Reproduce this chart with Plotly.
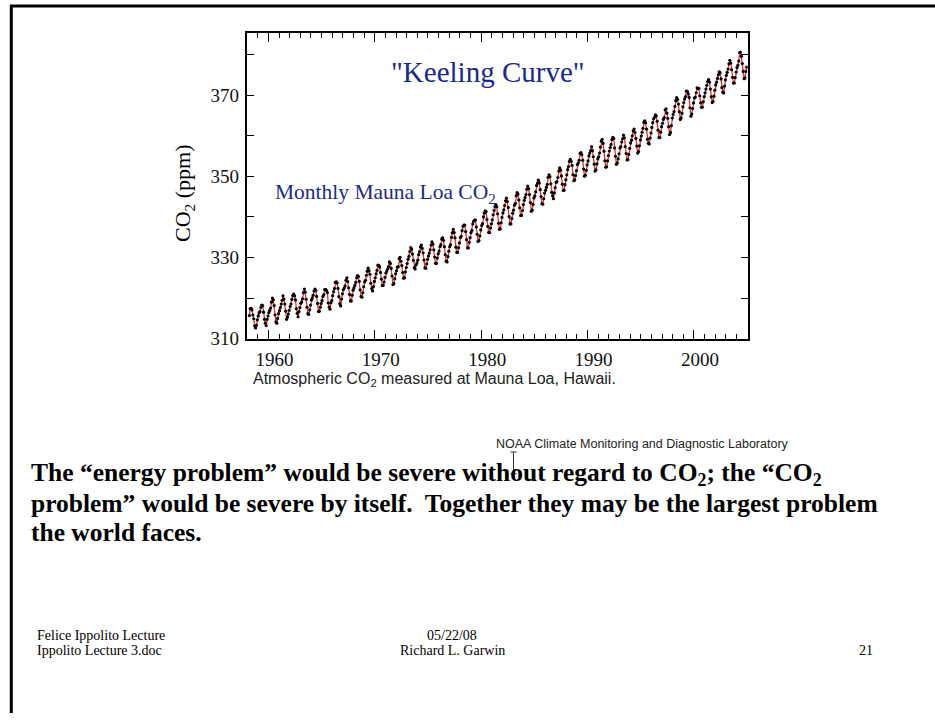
import plotly.graph_objects as go

# ---------------- data (monthly Mauna Loa CO2, ppm) ----------------
years = list(range(1958, 2005))
monthly_co2 = [
    [None, None, 315.71, 317.45, 317.50, 317.10, 315.86, 314.93, 313.20, 312.66, 313.33, 314.67],  # 1958
    [315.62, 316.38, 316.71, 317.72, 318.29, 318.15, 316.54, 314.80, 313.84, 313.26, 314.80, 315.58],  # 1959
    [316.43, 316.97, 317.58, 319.02, 320.03, 319.59, 318.18, 315.91, 314.16, 313.83, 315.00, 316.19],  # 1960
    [316.93, 317.70, 318.54, 319.48, 320.58, 319.77, 318.57, 316.79, 314.80, 315.38, 316.10, 317.01],  # 1961
    [317.94, 318.56, 319.68, 320.63, 321.01, 320.55, 319.58, 317.40, 316.26, 315.42, 316.69, 317.69],  # 1962
    [318.74, 319.08, 319.86, 321.39, 322.25, 321.47, 319.74, 317.77, 316.21, 315.99, 317.12, 318.31],  # 1963
    [319.57, 320.07, 320.73, 321.77, 322.25, 321.89, 320.44, 318.70, 316.70, 316.79, 317.79, 318.71],  # 1964
    [319.44, 320.44, 320.89, 322.13, 322.16, 321.87, 321.39, 318.81, 317.81, 317.30, 318.87, 319.42],  # 1965
    [320.62, 321.59, 322.39, 323.87, 324.01, 323.75, 322.39, 320.37, 318.64, 318.10, 319.79, 321.08],  # 1966
    [322.07, 322.50, 323.04, 324.42, 325.00, 324.09, 322.55, 320.92, 319.31, 319.31, 320.72, 321.96],  # 1967
    [322.57, 323.15, 323.89, 325.02, 325.57, 325.36, 324.14, 322.03, 320.41, 320.25, 321.31, 322.84],  # 1968
    [324.00, 324.42, 325.64, 326.66, 327.38, 326.70, 325.89, 323.67, 322.38, 321.78, 322.85, 324.12],  # 1969
    [325.03, 325.99, 326.87, 328.13, 328.07, 327.66, 326.35, 324.69, 323.10, 323.16, 323.98, 325.13],  # 1970
    [326.17, 326.68, 327.18, 327.78, 328.92, 328.57, 327.34, 325.46, 323.36, 323.57, 324.80, 326.01],  # 1971
    [326.77, 327.63, 327.75, 329.72, 330.07, 329.09, 328.05, 326.32, 324.93, 325.06, 326.50, 327.55],  # 1972
    [328.54, 329.56, 330.30, 331.50, 332.48, 332.07, 330.87, 329.31, 327.51, 327.18, 328.16, 328.64],  # 1973
    [329.35, 330.71, 331.48, 332.65, 333.09, 332.25, 331.18, 329.40, 327.44, 327.37, 328.46, 329.58],  # 1974
    [330.40, 331.10, 331.93, 333.09, 333.86, 333.29, 331.90, 330.14, 328.60, 328.57, 329.89, 330.92],  # 1975
    [331.62, 332.68, 333.17, 334.59, 334.85, 334.25, 332.68, 330.72, 329.11, 328.93, 330.24, 331.58],  # 1976
    [332.68, 333.17, 334.96, 336.14, 336.93, 336.17, 334.88, 332.56, 331.29, 331.27, 332.41, 333.60],  # 1977
    [334.95, 335.25, 336.66, 337.69, 338.03, 338.01, 336.41, 334.41, 332.37, 332.41, 333.75, 334.90],  # 1978
    [336.14, 336.69, 338.27, 338.95, 339.21, 339.26, 337.54, 335.75, 333.98, 334.19, 335.31, 336.81],  # 1979
    [337.90, 338.34, 340.01, 340.93, 341.48, 341.33, 339.40, 337.70, 336.19, 336.15, 337.27, 338.32],  # 1980
    [339.29, 340.55, 341.61, 342.53, 343.03, 342.54, 340.78, 338.44, 336.95, 337.08, 338.58, 339.88],  # 1981
    [340.96, 341.73, 342.81, 343.97, 344.63, 343.79, 342.32, 340.09, 338.28, 338.29, 339.60, 340.90],  # 1982
    [341.68, 342.90, 343.33, 345.25, 346.03, 345.63, 344.19, 342.27, 340.35, 340.38, 341.59, 343.05],  # 1983
    [344.10, 344.79, 345.52, 346.84, 347.63, 346.97, 345.53, 343.55, 341.40, 341.67, 343.10, 344.70],  # 1984
    [345.21, 346.16, 347.74, 348.34, 349.06, 348.38, 346.72, 345.02, 343.27, 343.13, 344.49, 345.88],  # 1985
    [346.56, 347.28, 348.01, 349.77, 350.38, 349.93, 348.16, 346.08, 345.22, 344.51, 345.93, 347.21],  # 1986
    [348.52, 348.73, 349.73, 351.31, 352.09, 351.53, 350.11, 348.08, 346.52, 346.59, 347.96, 349.16],  # 1987
    [350.39, 351.64, 352.41, 353.69, 354.21, 353.72, 352.69, 350.40, 348.92, 349.13, 350.20, 351.41],  # 1988
    [352.91, 353.27, 353.96, 355.64, 355.86, 355.37, 353.99, 351.81, 350.05, 350.25, 351.49, 352.85],  # 1989
    [353.80, 355.04, 355.73, 356.32, 357.32, 356.34, 354.84, 353.01, 351.31, 351.62, 353.07, 354.33],  # 1990
    [354.84, 355.73, 357.23, 358.66, 359.13, 358.13, 356.19, 353.85, 352.25, 352.35, 353.81, 355.12],  # 1991
    [356.25, 357.11, 357.86, 359.09, 359.59, 359.33, 357.01, 354.94, 352.96, 353.32, 354.32, 355.57],  # 1992
    [357.00, 357.31, 358.47, 359.27, 360.19, 359.52, 357.33, 355.64, 354.03, 354.12, 355.41, 356.91],  # 1993
    [358.24, 358.92, 359.99, 361.23, 361.65, 360.81, 359.38, 357.46, 355.73, 356.08, 357.53, 358.98],  # 1994
    [359.92, 360.86, 361.83, 363.30, 363.69, 363.19, 361.64, 359.12, 358.17, 357.99, 359.45, 360.68],  # 1995
    [362.07, 363.24, 364.17, 364.57, 365.13, 364.92, 363.55, 361.38, 359.54, 359.58, 360.89, 362.24],  # 1996
    [363.09, 364.03, 364.51, 366.35, 366.64, 365.59, 364.31, 362.25, 360.29, 360.82, 362.49, 364.38],  # 1997
    [365.26, 365.98, 367.24, 368.66, 369.42, 368.99, 367.82, 365.95, 364.02, 364.40, 365.52, 367.13],  # 1998
    [368.18, 369.07, 369.68, 370.99, 370.96, 370.30, 369.45, 366.90, 364.81, 365.37, 366.72, 368.10],  # 1999
    [369.29, 369.54, 370.60, 371.82, 371.58, 371.70, 369.86, 368.13, 367.00, 367.03, 368.37, 369.67],  # 2000
    [370.59, 371.51, 372.43, 373.37, 373.85, 373.22, 371.50, 369.61, 368.18, 368.45, 369.76, 371.24],  # 2001
    [372.53, 373.20, 374.12, 375.02, 375.76, 375.52, 374.01, 371.85, 370.75, 370.55, 372.25, 373.79],  # 2002
    [374.88, 375.64, 376.45, 377.73, 378.60, 377.93, 376.28, 374.41, 372.98, 373.00, 374.35, 375.69],  # 2003
    [376.79, 377.37, 378.41, 380.52, 380.63, 379.57, 377.79, 375.86, 374.06, 374.24, 375.86, 376.89],  # 2004
]
y_ticks = [310, 330, 350, 370]
x_ticks = [1960, 1970, 1980, 1990, 2000]

# flatten to decimal-year series (mid-month)
t, co2 = [], []
for yr, row in zip(years, monthly_co2):
    for m, v in enumerate(row):
        if v is not None:
            t.append(yr + (m + 0.5) / 12.0)
            co2.append(v)

W, H = 935, 724
def px(x): return x / W
def py(y): return 1 - y / H

NAVY = "#1b2a8a"
SERIF = "Liberation Serif, Times New Roman, serif"
SANS = "Liberation Sans, Arial, sans-serif"

fig = go.Figure()
fig.add_trace(go.Scatter(
    x=t, y=co2, mode="lines+markers",
    line=dict(color="#e8302c", width=1.3),
    marker=dict(color="black", size=3.2),
    hoverinfo="x+y", showlegend=False,
))

fig.update_layout(
    width=W, height=H,
    margin=dict(l=0, r=0, t=0, b=0),
    paper_bgcolor="white", plot_bgcolor="white",
    xaxis=dict(
        domain=[px(246.7), px(747.7)], range=[1957.96, 2005.05],
        tickmode="array", tickvals=x_ticks, ticktext=[str(v) for v in x_ticks],
        ticks="inside", ticklen=9, tickwidth=1.2, tickcolor="black",
        minor=dict(dtick=1, tick0=1958, ticks="inside", ticklen=5, tickwidth=1, tickcolor="black"),
        showline=True, linecolor="black", linewidth=1.6, mirror="ticks",
        showgrid=False, zeroline=False,
        tickfont=dict(family=SERIF, size=19, color="#111"),
        ticklabelshift=6, ticklabelstandoff=3,
    ),
    yaxis=dict(
        domain=[py(344), py(34)], range=[310, 385.2],
        tickmode="array", tickvals=y_ticks, ticktext=[str(v) for v in y_ticks],
        ticks="inside", ticklen=7, tickwidth=1.2, tickcolor="black",
        minor=dict(dtick=10, tick0=310, ticks="inside", ticklen=7, tickwidth=1, tickcolor="black"),
        showline=True, linecolor="black", linewidth=1.6, mirror="ticks",
        showgrid=False, zeroline=False,
        tickfont=dict(family=SERIF, size=19, color="#111"),
        ticklabelstandoff=2,
    ),
)

ann = []
def text(x, y, s, size, family=SERIF, color="black", xanchor="left", angle=0):
    ann.append(dict(xref="paper", yref="paper", x=px(x), y=py(y), text=s,
                    showarrow=False, xanchor=xanchor, yanchor="middle",
                    textangle=angle, font=dict(family=family, size=size, color=color)))

text(488, 73, '"Keeling Curve"', 29, color=NAVY, xanchor="center")
text(273, 196, "Monthly Mauna Loa CO<sub>2</sub>", 21.5, color=NAVY)
text(184, 196, "CO<sub>2</sub> (ppm)", 22, xanchor="center", angle=-90)
text(251, 385, "Atmospheric CO<sub>2</sub> measured at Mauna Loa, Hawaii.", 16, family=SANS, color="#222")
text(494, 451, "NOAA Climate Monitoring and Diagnostic Laboratory", 12.5, family=SANS, color="#222")

body = [
    "The “energy problem” would be severe without regard to CO<sub>2</sub>; the “CO<sub>2</sub>",
    "problem” would be severe by itself.  Together they may be the largest problem",
    "the world faces.",
]
for i, line in enumerate(body):
    text(29, 481 + 30 * i, "<b>" + line + "</b>", 25.5)

text(35, 645, "Felice Ippolito Lecture", 14)
text(35, 661, "Ippolito Lecture 3.doc", 14)
text(452, 645, "05/22/08", 14, xanchor="center")
text(452, 661, "Richard L. Garwin", 14, xanchor="center")
text(866, 661, "21", 14, xanchor="center")

fig.update_layout(annotations=ann)

# page border and text cursor
shapes = [
    dict(type="line", xref="paper", yref="paper", x0=px(11.3), x1=px(11.3), y0=py(5), y1=py(724), line=dict(color="black", width=3)),
    dict(type="line", xref="paper", yref="paper", x0=px(10), x1=px(935), y0=py(6.2), y1=py(6.2), line=dict(color="black", width=3)),
    dict(type="line", xref="paper", yref="paper", x0=px(513.5), x1=px(513.5), y0=py(459), y1=py(481), line=dict(color="#333", width=1)),
    dict(type="line", xref="paper", yref="paper", x0=px(510.5), x1=px(516.5), y0=py(459), y1=py(459), line=dict(color="#333", width=1)),
    dict(type="line", xref="paper", yref="paper", x0=px(510.5), x1=px(516.5), y0=py(481), y1=py(481), line=dict(color="#333", width=1)),
]
fig.update_layout(shapes=shapes)

fig.write_html(
    "out.html",
    config={"displayModeBar": False},
    post_script="document.body.style.margin='0px';",
)
